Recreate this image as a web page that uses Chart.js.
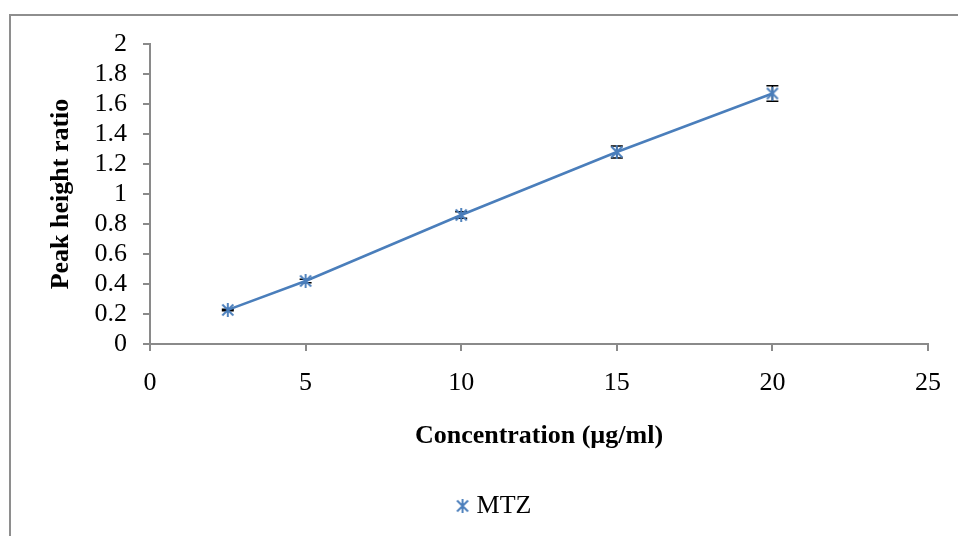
<!DOCTYPE html>
<html>
<head>
<meta charset="utf-8">
<script src="https://cdn.jsdelivr.net/npm/chart.js@4"></script>
<style>
  html, body { margin: 0; padding: 0; background: #fff; }
  #wrap { position: relative; width: 958px; height: 536px; overflow: hidden; background: #fff; }
  #frame { position: absolute; left: 9px; top: 14px; width: 1000px; height: 600px;
           border: 2px solid #8e8e8e; box-sizing: border-box; }
  canvas { position: absolute; left: 0; top: 0; }
</style>
</head>
<body>
<div id="wrap">
  <div id="frame"></div>
  <canvas id="c" width="958" height="536"></canvas>
</div>
<script>
// Calibration data for MTZ
const concentrations = [2.5, 5, 10, 15, 20];          // µg/ml
const peakRatios     = [0.227, 0.42, 0.86, 1.28, 1.67];
const ratioErrors    = [0.005, 0.012, 0.022, 0.04, 0.052];

const xTickValues = [0, 5, 10, 15, 20, 25];
const yTickValues = [0, 0.2, 0.4, 0.6, 0.8, 1, 1.2, 1.4, 1.6, 1.8, 2];

const SERIES_COLOR = '#4A7EBB';
const AXIS_COLOR = '#8a8a8a';
const FONT = "'Liberation Serif', 'Times New Roman', serif";

// Asterisk marker: an X crossed by a vertical stroke
function asteriskMarker(size, color) {
  const c = document.createElement('canvas');
  c.width = size; c.height = size;
  const g = c.getContext('2d');
  g.strokeStyle = color;
  g.lineWidth = 1.9;
  g.lineCap = 'butt';
  const a = 1.5, b = size - 1.5, m = size / 2;
  g.beginPath();
  g.moveTo(a, a); g.lineTo(b, b);
  g.moveTo(b, a); g.lineTo(a, b);
  g.moveTo(m, 0); g.lineTo(m, size);
  g.stroke();
  return c;
}
const marker = asteriskMarker(14, SERIES_COLOR);

// Vertical error bars with caps, drawn beneath the markers
const errorBars = {
  id: 'errorBars',
  beforeDatasetsDraw(chart) {
    const { ctx, scales: { x, y } } = chart;
    ctx.save();
    ctx.strokeStyle = '#000';
    ctx.lineWidth = 1.6;
    concentrations.forEach((c, i) => {
      const px = x.getPixelForValue(c);
      const top = y.getPixelForValue(peakRatios[i] + ratioErrors[i]);
      const bot = y.getPixelForValue(peakRatios[i] - ratioErrors[i]);
      ctx.beginPath();
      ctx.moveTo(px, top); ctx.lineTo(px, bot);
      ctx.moveTo(px - 6, top); ctx.lineTo(px + 6, top);
      ctx.moveTo(px - 6, bot); ctx.lineTo(px + 6, bot);
      ctx.stroke();
    });
    ctx.restore();
  }
};

// Nudge the legend to the right so it sits under the plot area
const legendShift = {
  id: 'legendShift',
  afterLayout(chart) {
    const L = chart.legend;
    if (L) { L.left += 32; L.right += 32; }
  }
};

new Chart(document.getElementById('c'), {
  type: 'scatter',
  data: {
    datasets: [{
      label: 'MTZ',
      data: concentrations.map((c, i) => ({ x: c, y: peakRatios[i] })),
      showLine: true,
      borderColor: SERIES_COLOR,
      borderWidth: 2.5,
      pointStyle: marker,
      pointRadius: 7,
      pointHoverRadius: 7,
      backgroundColor: SERIES_COLOR
    }]
  },
  options: {
    responsive: false,
    animation: false,
    devicePixelRatio: 1,
    layout: { padding: { left: 0, right: 29, top: 44, bottom: 7 } },
    plugins: {
      tooltip: { enabled: false },
      legend: {
        position: 'bottom',
        labels: {
          usePointStyle: true,
          boxWidth: 2,
          color: '#000',
          font: { family: FONT, size: 26 },
          padding: 10
        }
      }
    },
    scales: {
      x: {
        type: 'linear',
        min: 0, max: 25,
        afterBuildTicks: s => { s.ticks = xTickValues.map(v => ({ value: v })); },
        afterFit: s => { s.height = 139; },
        ticks: { color: '#000', font: { family: FONT, size: 26 }, padding: 17, maxRotation: 0,
                 autoSkip: false, callback: v => String(v) },
        grid: { drawOnChartArea: false, drawTicks: true, tickLength: 7, color: AXIS_COLOR, lineWidth: 2 },
        border: { color: AXIS_COLOR, width: 2 },
        title: {
          display: true,
          text: 'Concentration (µg/ml)',
          color: '#000',
          font: { family: FONT, size: 26, weight: 'bold' },
          padding: { top: 0, bottom: 31 }
        }
      },
      y: {
        type: 'linear',
        min: 0, max: 2,
        afterBuildTicks: s => { s.ticks = yTickValues.map(v => ({ value: v })); },
        afterFit: s => { s.width = 150; },
        ticks: { color: '#000', font: { family: FONT, size: 26 }, padding: 16,
                 autoSkip: false, callback: v => String(v) },
        grid: { drawOnChartArea: false, drawTicks: true, tickLength: 7, color: AXIS_COLOR, lineWidth: 2 },
        border: { color: AXIS_COLOR, width: 2 },
        title: {
          display: true,
          text: 'Peak height ratio',
          color: '#000',
          font: { family: FONT, size: 26, weight: 'bold' },
          padding: { top: 46, bottom: 0 }
        }
      }
    }
  },
  plugins: [errorBars, legendShift]
});
</script>
</body>
</html>
